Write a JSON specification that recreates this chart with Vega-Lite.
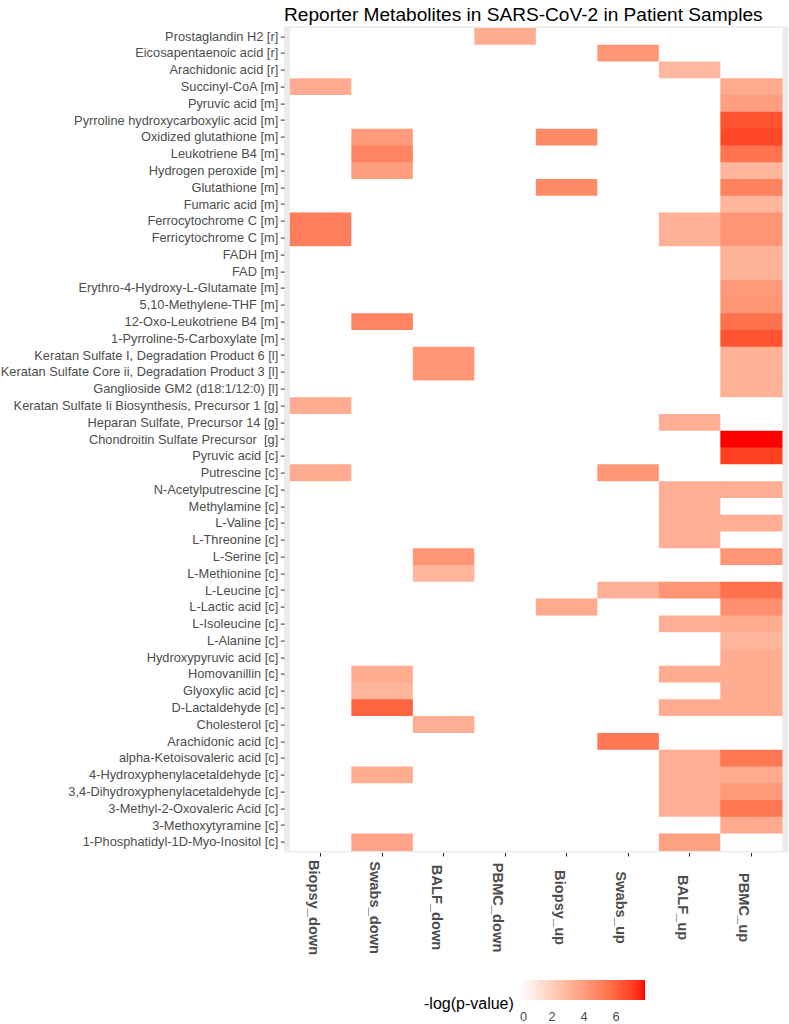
{
"$schema": "https://vega.github.io/schema/vega-lite/v6.json",
"autosize": {"type": "none"},
"padding": {"left": 284, "top": 26.6, "right": 0.7, "bottom": 171.6},
"width": 504.3,
"height": 825.8,
"title": {"text": "Reporter Metabolites in SARS-CoV-2 in Patient Samples", "anchor": "start", "frame": "group", "font": "Liberation Sans", "fontSize": 19.1, "fontWeight": "normal", "color": "#000000", "baseline": "alphabetic", "offset": -13},
"data": {"values": [
{"m":"Prostaglandin H2 [r]","s":"Biopsy_down","v":0},{"m":"Prostaglandin H2 [r]","s":"Swabs_down","v":0},{"m":"Prostaglandin H2 [r]","s":"BALF_down","v":0},{"m":"Prostaglandin H2 [r]","s":"PBMC_down","v":3.4},{"m":"Prostaglandin H2 [r]","s":"Biopsy_up","v":0},{"m":"Prostaglandin H2 [r]","s":"Swabs_up","v":0},{"m":"Prostaglandin H2 [r]","s":"BALF_up","v":0},{"m":"Prostaglandin H2 [r]","s":"PBMC_up","v":0},
{"m":"Eicosapentaenoic acid [r]","s":"Biopsy_down","v":0},{"m":"Eicosapentaenoic acid [r]","s":"Swabs_down","v":0},{"m":"Eicosapentaenoic acid [r]","s":"BALF_down","v":0},{"m":"Eicosapentaenoic acid [r]","s":"PBMC_down","v":0},{"m":"Eicosapentaenoic acid [r]","s":"Biopsy_up","v":0},{"m":"Eicosapentaenoic acid [r]","s":"Swabs_up","v":4.2},{"m":"Eicosapentaenoic acid [r]","s":"BALF_up","v":0},{"m":"Eicosapentaenoic acid [r]","s":"PBMC_up","v":0},
{"m":"Arachidonic acid [r]","s":"Biopsy_down","v":0},{"m":"Arachidonic acid [r]","s":"Swabs_down","v":0},{"m":"Arachidonic acid [r]","s":"BALF_down","v":0},{"m":"Arachidonic acid [r]","s":"PBMC_down","v":0},{"m":"Arachidonic acid [r]","s":"Biopsy_up","v":0},{"m":"Arachidonic acid [r]","s":"Swabs_up","v":0},{"m":"Arachidonic acid [r]","s":"BALF_up","v":2.9},{"m":"Arachidonic acid [r]","s":"PBMC_up","v":0},
{"m":"Succinyl-CoA [m]","s":"Biopsy_down","v":3.4},{"m":"Succinyl-CoA [m]","s":"Swabs_down","v":0},{"m":"Succinyl-CoA [m]","s":"BALF_down","v":0},{"m":"Succinyl-CoA [m]","s":"PBMC_down","v":0},{"m":"Succinyl-CoA [m]","s":"Biopsy_up","v":0},{"m":"Succinyl-CoA [m]","s":"Swabs_up","v":0},{"m":"Succinyl-CoA [m]","s":"BALF_up","v":0},{"m":"Succinyl-CoA [m]","s":"PBMC_up","v":3.5},
{"m":"Pyruvic acid [m]","s":"Biopsy_down","v":0},{"m":"Pyruvic acid [m]","s":"Swabs_down","v":0},{"m":"Pyruvic acid [m]","s":"BALF_down","v":0},{"m":"Pyruvic acid [m]","s":"PBMC_down","v":0},{"m":"Pyruvic acid [m]","s":"Biopsy_up","v":0},{"m":"Pyruvic acid [m]","s":"Swabs_up","v":0},{"m":"Pyruvic acid [m]","s":"BALF_up","v":0},{"m":"Pyruvic acid [m]","s":"PBMC_up","v":3.9},
{"m":"Pyrroline hydroxycarboxylic acid [m]","s":"Biopsy_down","v":0},{"m":"Pyrroline hydroxycarboxylic acid [m]","s":"Swabs_down","v":0},{"m":"Pyrroline hydroxycarboxylic acid [m]","s":"BALF_down","v":0},{"m":"Pyrroline hydroxycarboxylic acid [m]","s":"PBMC_down","v":0},{"m":"Pyrroline hydroxycarboxylic acid [m]","s":"Biopsy_up","v":0},{"m":"Pyrroline hydroxycarboxylic acid [m]","s":"Swabs_up","v":0},{"m":"Pyrroline hydroxycarboxylic acid [m]","s":"BALF_up","v":0},{"m":"Pyrroline hydroxycarboxylic acid [m]","s":"PBMC_up","v":6.5},
{"m":"Oxidized glutathione [m]","s":"Biopsy_down","v":0},{"m":"Oxidized glutathione [m]","s":"Swabs_down","v":4.1},{"m":"Oxidized glutathione [m]","s":"BALF_down","v":0},{"m":"Oxidized glutathione [m]","s":"PBMC_down","v":0},{"m":"Oxidized glutathione [m]","s":"Biopsy_up","v":4.7},{"m":"Oxidized glutathione [m]","s":"Swabs_up","v":0},{"m":"Oxidized glutathione [m]","s":"BALF_up","v":0},{"m":"Oxidized glutathione [m]","s":"PBMC_up","v":6.8},
{"m":"Leukotriene B4 [m]","s":"Biopsy_down","v":0},{"m":"Leukotriene B4 [m]","s":"Swabs_down","v":4.9},{"m":"Leukotriene B4 [m]","s":"BALF_down","v":0},{"m":"Leukotriene B4 [m]","s":"PBMC_down","v":0},{"m":"Leukotriene B4 [m]","s":"Biopsy_up","v":0},{"m":"Leukotriene B4 [m]","s":"Swabs_up","v":0},{"m":"Leukotriene B4 [m]","s":"BALF_up","v":0},{"m":"Leukotriene B4 [m]","s":"PBMC_up","v":5.5},
{"m":"Hydrogen peroxide [m]","s":"Biopsy_down","v":0},{"m":"Hydrogen peroxide [m]","s":"Swabs_down","v":3.9},{"m":"Hydrogen peroxide [m]","s":"BALF_down","v":0},{"m":"Hydrogen peroxide [m]","s":"PBMC_down","v":0},{"m":"Hydrogen peroxide [m]","s":"Biopsy_up","v":0},{"m":"Hydrogen peroxide [m]","s":"Swabs_up","v":0},{"m":"Hydrogen peroxide [m]","s":"BALF_up","v":0},{"m":"Hydrogen peroxide [m]","s":"PBMC_up","v":3.0},
{"m":"Glutathione [m]","s":"Biopsy_down","v":0},{"m":"Glutathione [m]","s":"Swabs_down","v":0},{"m":"Glutathione [m]","s":"BALF_down","v":0},{"m":"Glutathione [m]","s":"PBMC_down","v":0},{"m":"Glutathione [m]","s":"Biopsy_up","v":4.7},{"m":"Glutathione [m]","s":"Swabs_up","v":0},{"m":"Glutathione [m]","s":"BALF_up","v":0},{"m":"Glutathione [m]","s":"PBMC_up","v":5.0},
{"m":"Fumaric acid [m]","s":"Biopsy_down","v":0},{"m":"Fumaric acid [m]","s":"Swabs_down","v":0},{"m":"Fumaric acid [m]","s":"BALF_down","v":0},{"m":"Fumaric acid [m]","s":"PBMC_down","v":0},{"m":"Fumaric acid [m]","s":"Biopsy_up","v":0},{"m":"Fumaric acid [m]","s":"Swabs_up","v":0},{"m":"Fumaric acid [m]","s":"BALF_up","v":0},{"m":"Fumaric acid [m]","s":"PBMC_up","v":3.0},
{"m":"Ferrocytochrome C [m]","s":"Biopsy_down","v":5.1},{"m":"Ferrocytochrome C [m]","s":"Swabs_down","v":0},{"m":"Ferrocytochrome C [m]","s":"BALF_down","v":0},{"m":"Ferrocytochrome C [m]","s":"PBMC_down","v":0},{"m":"Ferrocytochrome C [m]","s":"Biopsy_up","v":0},{"m":"Ferrocytochrome C [m]","s":"Swabs_up","v":0},{"m":"Ferrocytochrome C [m]","s":"BALF_up","v":3.2},{"m":"Ferrocytochrome C [m]","s":"PBMC_up","v":4.3},
{"m":"Ferricytochrome C [m]","s":"Biopsy_down","v":5.1},{"m":"Ferricytochrome C [m]","s":"Swabs_down","v":0},{"m":"Ferricytochrome C [m]","s":"BALF_down","v":0},{"m":"Ferricytochrome C [m]","s":"PBMC_down","v":0},{"m":"Ferricytochrome C [m]","s":"Biopsy_up","v":0},{"m":"Ferricytochrome C [m]","s":"Swabs_up","v":0},{"m":"Ferricytochrome C [m]","s":"BALF_up","v":3.2},{"m":"Ferricytochrome C [m]","s":"PBMC_up","v":4.3},
{"m":"FADH [m]","s":"Biopsy_down","v":0},{"m":"FADH [m]","s":"Swabs_down","v":0},{"m":"FADH [m]","s":"BALF_down","v":0},{"m":"FADH [m]","s":"PBMC_down","v":0},{"m":"FADH [m]","s":"Biopsy_up","v":0},{"m":"FADH [m]","s":"Swabs_up","v":0},{"m":"FADH [m]","s":"BALF_up","v":0},{"m":"FADH [m]","s":"PBMC_up","v":3.1},
{"m":"FAD [m]","s":"Biopsy_down","v":0},{"m":"FAD [m]","s":"Swabs_down","v":0},{"m":"FAD [m]","s":"BALF_down","v":0},{"m":"FAD [m]","s":"PBMC_down","v":0},{"m":"FAD [m]","s":"Biopsy_up","v":0},{"m":"FAD [m]","s":"Swabs_up","v":0},{"m":"FAD [m]","s":"BALF_up","v":0},{"m":"FAD [m]","s":"PBMC_up","v":3.1},
{"m":"Erythro-4-Hydroxy-L-Glutamate [m]","s":"Biopsy_down","v":0},{"m":"Erythro-4-Hydroxy-L-Glutamate [m]","s":"Swabs_down","v":0},{"m":"Erythro-4-Hydroxy-L-Glutamate [m]","s":"BALF_down","v":0},{"m":"Erythro-4-Hydroxy-L-Glutamate [m]","s":"PBMC_down","v":0},{"m":"Erythro-4-Hydroxy-L-Glutamate [m]","s":"Biopsy_up","v":0},{"m":"Erythro-4-Hydroxy-L-Glutamate [m]","s":"Swabs_up","v":0},{"m":"Erythro-4-Hydroxy-L-Glutamate [m]","s":"BALF_up","v":0},{"m":"Erythro-4-Hydroxy-L-Glutamate [m]","s":"PBMC_up","v":4.1},
{"m":"5,10-Methylene-THF [m]","s":"Biopsy_down","v":0},{"m":"5,10-Methylene-THF [m]","s":"Swabs_down","v":0},{"m":"5,10-Methylene-THF [m]","s":"BALF_down","v":0},{"m":"5,10-Methylene-THF [m]","s":"PBMC_down","v":0},{"m":"5,10-Methylene-THF [m]","s":"Biopsy_up","v":0},{"m":"5,10-Methylene-THF [m]","s":"Swabs_up","v":0},{"m":"5,10-Methylene-THF [m]","s":"BALF_up","v":0},{"m":"5,10-Methylene-THF [m]","s":"PBMC_up","v":4.2},
{"m":"12-Oxo-Leukotriene B4 [m]","s":"Biopsy_down","v":0},{"m":"12-Oxo-Leukotriene B4 [m]","s":"Swabs_down","v":4.9},{"m":"12-Oxo-Leukotriene B4 [m]","s":"BALF_down","v":0},{"m":"12-Oxo-Leukotriene B4 [m]","s":"PBMC_down","v":0},{"m":"12-Oxo-Leukotriene B4 [m]","s":"Biopsy_up","v":0},{"m":"12-Oxo-Leukotriene B4 [m]","s":"Swabs_up","v":0},{"m":"12-Oxo-Leukotriene B4 [m]","s":"BALF_up","v":0},{"m":"12-Oxo-Leukotriene B4 [m]","s":"PBMC_up","v":5.6},
{"m":"1-Pyrroline-5-Carboxylate [m]","s":"Biopsy_down","v":0},{"m":"1-Pyrroline-5-Carboxylate [m]","s":"Swabs_down","v":0},{"m":"1-Pyrroline-5-Carboxylate [m]","s":"BALF_down","v":0},{"m":"1-Pyrroline-5-Carboxylate [m]","s":"PBMC_down","v":0},{"m":"1-Pyrroline-5-Carboxylate [m]","s":"Biopsy_up","v":0},{"m":"1-Pyrroline-5-Carboxylate [m]","s":"Swabs_up","v":0},{"m":"1-Pyrroline-5-Carboxylate [m]","s":"BALF_up","v":0},{"m":"1-Pyrroline-5-Carboxylate [m]","s":"PBMC_up","v":6.5},
{"m":"Keratan Sulfate I, Degradation Product 6 [l]","s":"Biopsy_down","v":0},{"m":"Keratan Sulfate I, Degradation Product 6 [l]","s":"Swabs_down","v":0},{"m":"Keratan Sulfate I, Degradation Product 6 [l]","s":"BALF_down","v":4.2},{"m":"Keratan Sulfate I, Degradation Product 6 [l]","s":"PBMC_down","v":0},{"m":"Keratan Sulfate I, Degradation Product 6 [l]","s":"Biopsy_up","v":0},{"m":"Keratan Sulfate I, Degradation Product 6 [l]","s":"Swabs_up","v":0},{"m":"Keratan Sulfate I, Degradation Product 6 [l]","s":"BALF_up","v":0},{"m":"Keratan Sulfate I, Degradation Product 6 [l]","s":"PBMC_up","v":3.2},
{"m":"Keratan Sulfate Core ii, Degradation Product 3 [l]","s":"Biopsy_down","v":0},{"m":"Keratan Sulfate Core ii, Degradation Product 3 [l]","s":"Swabs_down","v":0},{"m":"Keratan Sulfate Core ii, Degradation Product 3 [l]","s":"BALF_down","v":4.2},{"m":"Keratan Sulfate Core ii, Degradation Product 3 [l]","s":"PBMC_down","v":0},{"m":"Keratan Sulfate Core ii, Degradation Product 3 [l]","s":"Biopsy_up","v":0},{"m":"Keratan Sulfate Core ii, Degradation Product 3 [l]","s":"Swabs_up","v":0},{"m":"Keratan Sulfate Core ii, Degradation Product 3 [l]","s":"BALF_up","v":0},{"m":"Keratan Sulfate Core ii, Degradation Product 3 [l]","s":"PBMC_up","v":3.2},
{"m":"Ganglioside GM2 (d18:1/12:0) [l]","s":"Biopsy_down","v":0},{"m":"Ganglioside GM2 (d18:1/12:0) [l]","s":"Swabs_down","v":0},{"m":"Ganglioside GM2 (d18:1/12:0) [l]","s":"BALF_down","v":0},{"m":"Ganglioside GM2 (d18:1/12:0) [l]","s":"PBMC_down","v":0},{"m":"Ganglioside GM2 (d18:1/12:0) [l]","s":"Biopsy_up","v":0},{"m":"Ganglioside GM2 (d18:1/12:0) [l]","s":"Swabs_up","v":0},{"m":"Ganglioside GM2 (d18:1/12:0) [l]","s":"BALF_up","v":0},{"m":"Ganglioside GM2 (d18:1/12:0) [l]","s":"PBMC_up","v":3.2},
{"m":"Keratan Sulfate Ii Biosynthesis, Precursor 1 [g]","s":"Biopsy_down","v":3.4},{"m":"Keratan Sulfate Ii Biosynthesis, Precursor 1 [g]","s":"Swabs_down","v":0},{"m":"Keratan Sulfate Ii Biosynthesis, Precursor 1 [g]","s":"BALF_down","v":0},{"m":"Keratan Sulfate Ii Biosynthesis, Precursor 1 [g]","s":"PBMC_down","v":0},{"m":"Keratan Sulfate Ii Biosynthesis, Precursor 1 [g]","s":"Biopsy_up","v":0},{"m":"Keratan Sulfate Ii Biosynthesis, Precursor 1 [g]","s":"Swabs_up","v":0},{"m":"Keratan Sulfate Ii Biosynthesis, Precursor 1 [g]","s":"BALF_up","v":0},{"m":"Keratan Sulfate Ii Biosynthesis, Precursor 1 [g]","s":"PBMC_up","v":0},
{"m":"Heparan Sulfate, Precursor 14 [g]","s":"Biopsy_down","v":0},{"m":"Heparan Sulfate, Precursor 14 [g]","s":"Swabs_down","v":0},{"m":"Heparan Sulfate, Precursor 14 [g]","s":"BALF_down","v":0},{"m":"Heparan Sulfate, Precursor 14 [g]","s":"PBMC_down","v":0},{"m":"Heparan Sulfate, Precursor 14 [g]","s":"Biopsy_up","v":0},{"m":"Heparan Sulfate, Precursor 14 [g]","s":"Swabs_up","v":0},{"m":"Heparan Sulfate, Precursor 14 [g]","s":"BALF_up","v":3.3},{"m":"Heparan Sulfate, Precursor 14 [g]","s":"PBMC_up","v":0},
{"m":"Chondroitin Sulfate Precursor\u00a0 [g]","s":"Biopsy_down","v":0},{"m":"Chondroitin Sulfate Precursor\u00a0 [g]","s":"Swabs_down","v":0},{"m":"Chondroitin Sulfate Precursor\u00a0 [g]","s":"BALF_down","v":0},{"m":"Chondroitin Sulfate Precursor\u00a0 [g]","s":"PBMC_down","v":0},{"m":"Chondroitin Sulfate Precursor\u00a0 [g]","s":"Biopsy_up","v":0},{"m":"Chondroitin Sulfate Precursor\u00a0 [g]","s":"Swabs_up","v":0},{"m":"Chondroitin Sulfate Precursor\u00a0 [g]","s":"BALF_up","v":0},{"m":"Chondroitin Sulfate Precursor\u00a0 [g]","s":"PBMC_up","v":7.8},
{"m":"Pyruvic acid [c]","s":"Biopsy_down","v":0},{"m":"Pyruvic acid [c]","s":"Swabs_down","v":0},{"m":"Pyruvic acid [c]","s":"BALF_down","v":0},{"m":"Pyruvic acid [c]","s":"PBMC_down","v":0},{"m":"Pyruvic acid [c]","s":"Biopsy_up","v":0},{"m":"Pyruvic acid [c]","s":"Swabs_up","v":0},{"m":"Pyruvic acid [c]","s":"BALF_up","v":0},{"m":"Pyruvic acid [c]","s":"PBMC_up","v":7.0},
{"m":"Putrescine [c]","s":"Biopsy_down","v":3.4},{"m":"Putrescine [c]","s":"Swabs_down","v":0},{"m":"Putrescine [c]","s":"BALF_down","v":0},{"m":"Putrescine [c]","s":"PBMC_down","v":0},{"m":"Putrescine [c]","s":"Biopsy_up","v":0},{"m":"Putrescine [c]","s":"Swabs_up","v":4.2},{"m":"Putrescine [c]","s":"BALF_up","v":0},{"m":"Putrescine [c]","s":"PBMC_up","v":0},
{"m":"N-Acetylputrescine [c]","s":"Biopsy_down","v":0},{"m":"N-Acetylputrescine [c]","s":"Swabs_down","v":0},{"m":"N-Acetylputrescine [c]","s":"BALF_down","v":0},{"m":"N-Acetylputrescine [c]","s":"PBMC_down","v":0},{"m":"N-Acetylputrescine [c]","s":"Biopsy_up","v":0},{"m":"N-Acetylputrescine [c]","s":"Swabs_up","v":0},{"m":"N-Acetylputrescine [c]","s":"BALF_up","v":3.3},{"m":"N-Acetylputrescine [c]","s":"PBMC_up","v":3.3},
{"m":"Methylamine [c]","s":"Biopsy_down","v":0},{"m":"Methylamine [c]","s":"Swabs_down","v":0},{"m":"Methylamine [c]","s":"BALF_down","v":0},{"m":"Methylamine [c]","s":"PBMC_down","v":0},{"m":"Methylamine [c]","s":"Biopsy_up","v":0},{"m":"Methylamine [c]","s":"Swabs_up","v":0},{"m":"Methylamine [c]","s":"BALF_up","v":3.3},{"m":"Methylamine [c]","s":"PBMC_up","v":0},
{"m":"L-Valine [c]","s":"Biopsy_down","v":0},{"m":"L-Valine [c]","s":"Swabs_down","v":0},{"m":"L-Valine [c]","s":"BALF_down","v":0},{"m":"L-Valine [c]","s":"PBMC_down","v":0},{"m":"L-Valine [c]","s":"Biopsy_up","v":0},{"m":"L-Valine [c]","s":"Swabs_up","v":0},{"m":"L-Valine [c]","s":"BALF_up","v":3.3},{"m":"L-Valine [c]","s":"PBMC_up","v":3.3},
{"m":"L-Threonine [c]","s":"Biopsy_down","v":0},{"m":"L-Threonine [c]","s":"Swabs_down","v":0},{"m":"L-Threonine [c]","s":"BALF_down","v":0},{"m":"L-Threonine [c]","s":"PBMC_down","v":0},{"m":"L-Threonine [c]","s":"Biopsy_up","v":0},{"m":"L-Threonine [c]","s":"Swabs_up","v":0},{"m":"L-Threonine [c]","s":"BALF_up","v":3.3},{"m":"L-Threonine [c]","s":"PBMC_up","v":0},
{"m":"L-Serine [c]","s":"Biopsy_down","v":0},{"m":"L-Serine [c]","s":"Swabs_down","v":0},{"m":"L-Serine [c]","s":"BALF_down","v":4.2},{"m":"L-Serine [c]","s":"PBMC_down","v":0},{"m":"L-Serine [c]","s":"Biopsy_up","v":0},{"m":"L-Serine [c]","s":"Swabs_up","v":0},{"m":"L-Serine [c]","s":"BALF_up","v":0},{"m":"L-Serine [c]","s":"PBMC_up","v":4.3},
{"m":"L-Methionine [c]","s":"Biopsy_down","v":0},{"m":"L-Methionine [c]","s":"Swabs_down","v":0},{"m":"L-Methionine [c]","s":"BALF_down","v":3.0},{"m":"L-Methionine [c]","s":"PBMC_down","v":0},{"m":"L-Methionine [c]","s":"Biopsy_up","v":0},{"m":"L-Methionine [c]","s":"Swabs_up","v":0},{"m":"L-Methionine [c]","s":"BALF_up","v":0},{"m":"L-Methionine [c]","s":"PBMC_up","v":0},
{"m":"L-Leucine [c]","s":"Biopsy_down","v":0},{"m":"L-Leucine [c]","s":"Swabs_down","v":0},{"m":"L-Leucine [c]","s":"BALF_down","v":0},{"m":"L-Leucine [c]","s":"PBMC_down","v":0},{"m":"L-Leucine [c]","s":"Biopsy_up","v":0},{"m":"L-Leucine [c]","s":"Swabs_up","v":3.2},{"m":"L-Leucine [c]","s":"BALF_up","v":4.3},{"m":"L-Leucine [c]","s":"PBMC_up","v":5.6},
{"m":"L-Lactic acid [c]","s":"Biopsy_down","v":0},{"m":"L-Lactic acid [c]","s":"Swabs_down","v":0},{"m":"L-Lactic acid [c]","s":"BALF_down","v":0},{"m":"L-Lactic acid [c]","s":"PBMC_down","v":0},{"m":"L-Lactic acid [c]","s":"Biopsy_up","v":3.5},{"m":"L-Lactic acid [c]","s":"Swabs_up","v":0},{"m":"L-Lactic acid [c]","s":"BALF_up","v":0},{"m":"L-Lactic acid [c]","s":"PBMC_up","v":4.5},
{"m":"L-Isoleucine [c]","s":"Biopsy_down","v":0},{"m":"L-Isoleucine [c]","s":"Swabs_down","v":0},{"m":"L-Isoleucine [c]","s":"BALF_down","v":0},{"m":"L-Isoleucine [c]","s":"PBMC_down","v":0},{"m":"L-Isoleucine [c]","s":"Biopsy_up","v":0},{"m":"L-Isoleucine [c]","s":"Swabs_up","v":0},{"m":"L-Isoleucine [c]","s":"BALF_up","v":3.3},{"m":"L-Isoleucine [c]","s":"PBMC_up","v":3.4},
{"m":"L-Alanine [c]","s":"Biopsy_down","v":0},{"m":"L-Alanine [c]","s":"Swabs_down","v":0},{"m":"L-Alanine [c]","s":"BALF_down","v":0},{"m":"L-Alanine [c]","s":"PBMC_down","v":0},{"m":"L-Alanine [c]","s":"Biopsy_up","v":0},{"m":"L-Alanine [c]","s":"Swabs_up","v":0},{"m":"L-Alanine [c]","s":"BALF_up","v":0},{"m":"L-Alanine [c]","s":"PBMC_up","v":3.0},
{"m":"Hydroxypyruvic acid [c]","s":"Biopsy_down","v":0},{"m":"Hydroxypyruvic acid [c]","s":"Swabs_down","v":0},{"m":"Hydroxypyruvic acid [c]","s":"BALF_down","v":0},{"m":"Hydroxypyruvic acid [c]","s":"PBMC_down","v":0},{"m":"Hydroxypyruvic acid [c]","s":"Biopsy_up","v":0},{"m":"Hydroxypyruvic acid [c]","s":"Swabs_up","v":0},{"m":"Hydroxypyruvic acid [c]","s":"BALF_up","v":0},{"m":"Hydroxypyruvic acid [c]","s":"PBMC_up","v":3.4},
{"m":"Homovanillin [c]","s":"Biopsy_down","v":0},{"m":"Homovanillin [c]","s":"Swabs_down","v":3.4},{"m":"Homovanillin [c]","s":"BALF_down","v":0},{"m":"Homovanillin [c]","s":"PBMC_down","v":0},{"m":"Homovanillin [c]","s":"Biopsy_up","v":0},{"m":"Homovanillin [c]","s":"Swabs_up","v":0},{"m":"Homovanillin [c]","s":"BALF_up","v":3.4},{"m":"Homovanillin [c]","s":"PBMC_up","v":3.4},
{"m":"Glyoxylic acid [c]","s":"Biopsy_down","v":0},{"m":"Glyoxylic acid [c]","s":"Swabs_down","v":3.0},{"m":"Glyoxylic acid [c]","s":"BALF_down","v":0},{"m":"Glyoxylic acid [c]","s":"PBMC_down","v":0},{"m":"Glyoxylic acid [c]","s":"Biopsy_up","v":0},{"m":"Glyoxylic acid [c]","s":"Swabs_up","v":0},{"m":"Glyoxylic acid [c]","s":"BALF_up","v":0},{"m":"Glyoxylic acid [c]","s":"PBMC_up","v":3.4},
{"m":"D-Lactaldehyde [c]","s":"Biopsy_down","v":0},{"m":"D-Lactaldehyde [c]","s":"Swabs_down","v":6.0},{"m":"D-Lactaldehyde [c]","s":"BALF_down","v":0},{"m":"D-Lactaldehyde [c]","s":"PBMC_down","v":0},{"m":"D-Lactaldehyde [c]","s":"Biopsy_up","v":0},{"m":"D-Lactaldehyde [c]","s":"Swabs_up","v":0},{"m":"D-Lactaldehyde [c]","s":"BALF_up","v":3.4},{"m":"D-Lactaldehyde [c]","s":"PBMC_up","v":3.4},
{"m":"Cholesterol [c]","s":"Biopsy_down","v":0},{"m":"Cholesterol [c]","s":"Swabs_down","v":0},{"m":"Cholesterol [c]","s":"BALF_down","v":3.3},{"m":"Cholesterol [c]","s":"PBMC_down","v":0},{"m":"Cholesterol [c]","s":"Biopsy_up","v":0},{"m":"Cholesterol [c]","s":"Swabs_up","v":0},{"m":"Cholesterol [c]","s":"BALF_up","v":0},{"m":"Cholesterol [c]","s":"PBMC_up","v":0},
{"m":"Arachidonic acid [c]","s":"Biopsy_down","v":0},{"m":"Arachidonic acid [c]","s":"Swabs_down","v":0},{"m":"Arachidonic acid [c]","s":"BALF_down","v":0},{"m":"Arachidonic acid [c]","s":"PBMC_down","v":0},{"m":"Arachidonic acid [c]","s":"Biopsy_up","v":0},{"m":"Arachidonic acid [c]","s":"Swabs_up","v":5.4},{"m":"Arachidonic acid [c]","s":"BALF_up","v":0},{"m":"Arachidonic acid [c]","s":"PBMC_up","v":0},
{"m":"alpha-Ketoisovaleric acid [c]","s":"Biopsy_down","v":0},{"m":"alpha-Ketoisovaleric acid [c]","s":"Swabs_down","v":0},{"m":"alpha-Ketoisovaleric acid [c]","s":"BALF_down","v":0},{"m":"alpha-Ketoisovaleric acid [c]","s":"PBMC_down","v":0},{"m":"alpha-Ketoisovaleric acid [c]","s":"Biopsy_up","v":0},{"m":"alpha-Ketoisovaleric acid [c]","s":"Swabs_up","v":0},{"m":"alpha-Ketoisovaleric acid [c]","s":"BALF_up","v":3.3},{"m":"alpha-Ketoisovaleric acid [c]","s":"PBMC_up","v":5.4},
{"m":"4-Hydroxyphenylacetaldehyde [c]","s":"Biopsy_down","v":0},{"m":"4-Hydroxyphenylacetaldehyde [c]","s":"Swabs_down","v":3.4},{"m":"4-Hydroxyphenylacetaldehyde [c]","s":"BALF_down","v":0},{"m":"4-Hydroxyphenylacetaldehyde [c]","s":"PBMC_down","v":0},{"m":"4-Hydroxyphenylacetaldehyde [c]","s":"Biopsy_up","v":0},{"m":"4-Hydroxyphenylacetaldehyde [c]","s":"Swabs_up","v":0},{"m":"4-Hydroxyphenylacetaldehyde [c]","s":"BALF_up","v":3.3},{"m":"4-Hydroxyphenylacetaldehyde [c]","s":"PBMC_up","v":3.5},
{"m":"3,4-Dihydroxyphenylacetaldehyde [c]","s":"Biopsy_down","v":0},{"m":"3,4-Dihydroxyphenylacetaldehyde [c]","s":"Swabs_down","v":0},{"m":"3,4-Dihydroxyphenylacetaldehyde [c]","s":"BALF_down","v":0},{"m":"3,4-Dihydroxyphenylacetaldehyde [c]","s":"PBMC_down","v":0},{"m":"3,4-Dihydroxyphenylacetaldehyde [c]","s":"Biopsy_up","v":0},{"m":"3,4-Dihydroxyphenylacetaldehyde [c]","s":"Swabs_up","v":0},{"m":"3,4-Dihydroxyphenylacetaldehyde [c]","s":"BALF_up","v":3.3},{"m":"3,4-Dihydroxyphenylacetaldehyde [c]","s":"PBMC_up","v":4.1},
{"m":"3-Methyl-2-Oxovaleric Acid [c]","s":"Biopsy_down","v":0},{"m":"3-Methyl-2-Oxovaleric Acid [c]","s":"Swabs_down","v":0},{"m":"3-Methyl-2-Oxovaleric Acid [c]","s":"BALF_down","v":0},{"m":"3-Methyl-2-Oxovaleric Acid [c]","s":"PBMC_down","v":0},{"m":"3-Methyl-2-Oxovaleric Acid [c]","s":"Biopsy_up","v":0},{"m":"3-Methyl-2-Oxovaleric Acid [c]","s":"Swabs_up","v":0},{"m":"3-Methyl-2-Oxovaleric Acid [c]","s":"BALF_up","v":3.3},{"m":"3-Methyl-2-Oxovaleric Acid [c]","s":"PBMC_up","v":5.4},
{"m":"3-Methoxytyramine [c]","s":"Biopsy_down","v":0},{"m":"3-Methoxytyramine [c]","s":"Swabs_down","v":0},{"m":"3-Methoxytyramine [c]","s":"BALF_down","v":0},{"m":"3-Methoxytyramine [c]","s":"PBMC_down","v":0},{"m":"3-Methoxytyramine [c]","s":"Biopsy_up","v":0},{"m":"3-Methoxytyramine [c]","s":"Swabs_up","v":0},{"m":"3-Methoxytyramine [c]","s":"BALF_up","v":0},{"m":"3-Methoxytyramine [c]","s":"PBMC_up","v":3.5},
{"m":"1-Phosphatidyl-1D-Myo-Inositol [c]","s":"Biopsy_down","v":0},{"m":"1-Phosphatidyl-1D-Myo-Inositol [c]","s":"Swabs_down","v":3.7},{"m":"1-Phosphatidyl-1D-Myo-Inositol [c]","s":"BALF_down","v":0},{"m":"1-Phosphatidyl-1D-Myo-Inositol [c]","s":"PBMC_down","v":0},{"m":"1-Phosphatidyl-1D-Myo-Inositol [c]","s":"Biopsy_up","v":0},{"m":"1-Phosphatidyl-1D-Myo-Inositol [c]","s":"Swabs_up","v":0},{"m":"1-Phosphatidyl-1D-Myo-Inositol [c]","s":"BALF_up","v":3.8},{"m":"1-Phosphatidyl-1D-Myo-Inositol [c]","s":"PBMC_up","v":0}
]},
"mark": {"type": "rect", "strokeWidth": 0, "opacity": 1, "width": {"band": 1.01}, "height": {"band": 1.04}},
"encoding": {
"x": {"field": "s", "type": "nominal", "sort": null, "title": null,
"scale": {"paddingInner": 0, "paddingOuter": 0.1},
"axis": {"labelAngle": 90, "labelAlign": "center", "labelBaseline": "top", "labelPadding": 51, "labelFontSize": 14.67, "labelFontWeight": "bold", "labelColor": "#4D4D4D", "labelOverlap": false, "labelBound": false, "labelFlush": false}},
"y": {"field": "m", "type": "nominal", "sort": null, "title": null,
"scale": {"paddingInner": 0, "paddingOuter": 0.1},
"axis": {"labelFontSize": 12.8, "labelColor": "#4D4D4D", "labelPadding": 2.6, "labelLimit": 400, "labelOverlap": false}},
"color": {"field": "v", "type": "quantitative",
"scale": {"domain": [0, 7.8], "range": ["#FFFFFF", "#FF0000"], "interpolate": "lab"},
"legend": {"type": "gradient", "title": "-log(p-value)", "orient": "none", "legendX": 140, "legendY": 953.4, "direction": "horizontal", "titleOrient": "left", "titleAnchor": "end", "titleBaseline": "line-top", "titleLineHeight": 8, "titlePadding": 6, "titleFont": "Liberation Sans", "titleFontSize": 16, "titleFontWeight": "normal", "titleColor": "#000000", "gradientLength": 125, "gradientThickness": 20, "gradientStrokeWidth": 0, "values": [0, 2, 4, 6], "labelFont": "Liberation Sans", "labelFontSize": 12.8, "labelColor": "#4D4D4D", "labelOffset": 11, "padding": 0}}
},
"config": {
"background": "#FFFFFF",
"view": {"fill": "#EBEBEB", "stroke": null},
"axis": {"domain": false, "grid": false, "tickColor": "#333333", "tickSize": 3.67, "tickWidth": 1.07, "labelFont": "Liberation Sans"},
"legend": {"labelFont": "Liberation Sans", "titleFont": "Liberation Sans"}
}
}
